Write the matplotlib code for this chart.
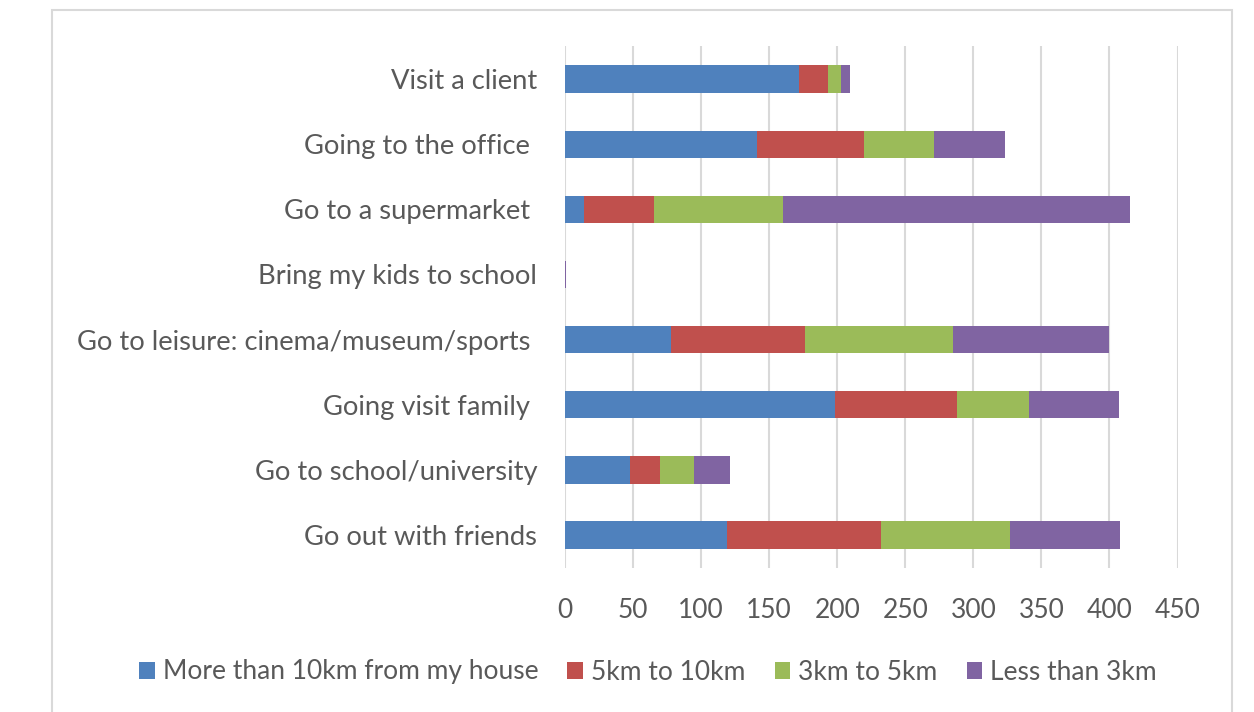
import matplotlib.pyplot as plt
import numpy as np

plt.rcParams['font.family'] = ['Lato', 'DejaVu Sans']

categories = ['Visit a client', 'Going to the office ', 'Go to a supermarket ',
              'Bring my kids to school', 'Go to leisure: cinema/museum/sports ',
              'Going visit family ', 'Go to school/university', 'Go out with friends']
more_10km = [172, 141, 14, 0, 78, 198, 48, 119]
km_5_10 = [21, 79, 51, 0, 98, 90, 22, 113]
km_3_5 = [10, 51, 95, 0, 109, 53, 25, 95]
less_3km = [6, 52, 255, 1, 115, 66, 26, 81]

series = [('More than 10km from my house', more_10km, '#4F81BD'),
          ('5km to 10km', km_5_10, '#C0504D'),
          ('3km to 5km', km_3_5, '#9BBB59'),
          ('Less than 3km', less_3km, '#8064A2')]

fig = plt.figure(figsize=(12.54, 7.12), dpi=100)
ax = fig.add_axes([0.4506, 0.2028, 0.939 - 0.4506, 0.7319])

# outer chart border like the excel frame
fig.patches.append(plt.Rectangle((52 / 1254, -0.05), (1232 - 52) / 1254, 1.05 - 10 / 712,
                                 transform=fig.transFigure, fill=False,
                                 edgecolor='#D9D9D9', lw=1.5))

y = np.arange(len(categories))
left = np.zeros(len(categories))
for name, vals, col in series:
    ax.barh(y, vals, left=left, height=0.42, color=col, label=name, zorder=3)
    left += np.array(vals)

ax.set_ylim(len(categories) - 0.5, -0.5)
ax.set_yticks(y)
ax.set_yticklabels(categories, fontsize=19.7, color='#595959')
ax.set_xlim(0, 450)
ax.set_xticks(np.arange(0, 451, 50))
ax.tick_params(axis='x', labelsize=19, labelcolor='#595959', length=0, pad=22)
ax.tick_params(axis='y', length=0, pad=20)
ax.grid(axis='x', color='#D9D9D9', lw=1.5, zorder=0)
for s in ax.spines.values():
    s.set_visible(False)

ax.legend(loc='center', bbox_to_anchor=(648 / 1254, 1 - 672 / 712),
          bbox_transform=fig.transFigure, ncol=4, frameon=False,
          fontsize=19, labelcolor='#595959', handlelength=0.6, handleheight=0.6,
          handletextpad=0.3, columnspacing=1.1)

plt.savefig('out.png', dpi=100)
